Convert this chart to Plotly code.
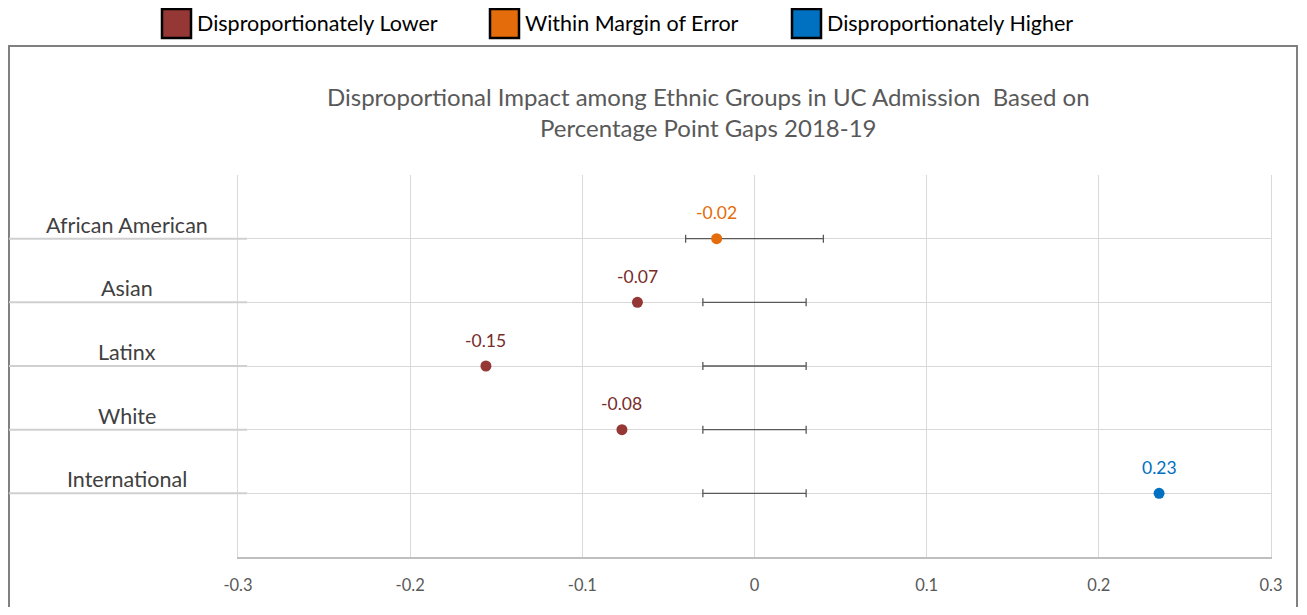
import plotly.graph_objects as go

categories = ["African American", "Asian", "Latinx", "White", "International"]
gaps = [-0.022, -0.068, -0.156, -0.077, 0.235]
gap_labels = ["-0.02", "-0.07", "-0.15", "-0.08", "0.23"]
status = ["Within Margin of Error", "Disproportionately Lower", "Disproportionately Lower",
          "Disproportionately Lower", "Disproportionately Higher"]
margin_of_error = [0.04, 0.03, 0.03, 0.03, 0.03]
x_ticks = [-0.3, -0.2, -0.1, 0, 0.1, 0.2, 0.3]
legend_order = ["Disproportionately Lower", "Within Margin of Error", "Disproportionately Higher"]

marker_colors = {"Disproportionately Lower": "#953735",
                 "Within Margin of Error": "#E46C0A",
                 "Disproportionately Higher": "#0070C0"}
label_colors = {"Disproportionately Lower": "#772C2A",
                "Within Margin of Error": "#E46C0A",
                "Disproportionately Higher": "#0070C0"}

FONT = "Lato"
OFF = 8  # page body margin
W, H = 1307 - 2 * OFF, 615 - 2 * OFF
# plot area in screen pixels
SX0, SX1, SY0, SY1 = 238, 1271, 175, 557
L, R, T, B = SX0 - OFF, W - (SX1 - OFF), SY0 - OFF, H - (SY1 - OFF)
PW, PH = W - L - R, H - T - B

def px_x(p):
    return (p - SX0) / PW

def px_y(p):
    return (SY1 - p) / PH

n = len(categories)
ypos = [n - i for i in range(n)]

fig = go.Figure()

# margin-of-error bars centred on zero
fig.add_trace(go.Scatter(
    x=[0] * n, y=ypos, mode="markers",
    marker=dict(size=1, color="rgba(0,0,0,0)"),
    error_x=dict(type="data", array=margin_of_error, symmetric=True,
                 color="#595959", thickness=1.3, width=4),
    showlegend=False, hoverinfo="skip"))

for s in legend_order:
    idx = [i for i in range(n) if status[i] == s]
    fig.add_trace(go.Scatter(
        x=[gaps[i] for i in idx], y=[ypos[i] for i in idx],
        mode="markers", name=s,
        marker=dict(size=11, color=marker_colors[s]),
        showlegend=False))

annotations = []
shapes = []

# data labels
for i in range(n):
    annotations.append(dict(
        x=gaps[i], y=ypos[i], xref="x", yref="y", text=gap_labels[i],
        showarrow=False, yshift=26,
        font=dict(family=FONT, size=17.5, color=label_colors[status[i]])))

# category labels + left extension lines
for i in range(n):
    annotations.append(dict(
        x=px_x(127), y=ypos[i], xref="paper", yref="y", text=categories[i],
        showarrow=False, yshift=14, xanchor="center",
        font=dict(family=FONT, size=21.5, color="#404040")))
    shapes.append(dict(type="line", xref="paper", yref="y",
                       x0=px_x(9), x1=px_x(247), y0=ypos[i], y1=ypos[i],
                       line=dict(color="#d0d0d0", width=2)))

# title
annotations.append(dict(
    x=px_x(708), y=px_y(112), xref="paper", yref="paper",
    text="Disproportional Impact among Ethnic Groups in UC Admission  Based on<br>Percentage Point Gaps 2018-19",
    showarrow=False, xanchor="center", yanchor="middle",
    font=dict(family=FONT, size=24, color="#595959")))

# chart border
shapes.append(dict(type="rect", xref="paper", yref="paper",
                   x0=px_x(9), x1=px_x(1297), y0=px_y(640), y1=px_y(46),
                   line=dict(color="#808080", width=2), fillcolor="rgba(0,0,0,0)",
                   layer="below"))

# legend (manual)
leg_sw = [162, 490, 792]
for s, sx in zip(legend_order, leg_sw):
    shapes.append(dict(type="rect", xref="paper", yref="paper",
                       x0=px_x(sx), x1=px_x(sx + 29), y0=px_y(38), y1=px_y(9),
                       line=dict(color="#000000", width=2.5),
                       fillcolor=marker_colors[s]))
    annotations.append(dict(
        x=px_x(sx + 33), y=px_y(23), xref="paper", yref="paper", text=s,
        showarrow=False, xanchor="left", yanchor="middle",
        font=dict(family=FONT, size=21.5, color="#000000")))

fig.update_layout(
    width=W, height=H,
    margin=dict(l=L, r=R, t=T, b=B),
    paper_bgcolor="white", plot_bgcolor="white",
    showlegend=False,
    annotations=annotations, shapes=shapes,
    xaxis=dict(range=[-0.3, 0.3], tickvals=x_ticks,
               ticktext=[("%g" % v) for v in x_ticks],
               showgrid=True, gridcolor="#d9d9d9", gridwidth=1.3,
               zeroline=False, showline=True, linecolor="#bfbfbf", linewidth=1.5,
               ticks="", ticklabelstandoff=12,
               tickfont=dict(family=FONT, size=16.5, color="#595959")),
    yaxis=dict(range=[0, 6], dtick=1, showticklabels=False,
               showgrid=True, gridcolor="#d9d9d9", gridwidth=1.3,
               zeroline=False, showline=True, mirror=True,
               linecolor="#d9d9d9", linewidth=1.3, ticks=""),
)

fig.write_html("out.html")
